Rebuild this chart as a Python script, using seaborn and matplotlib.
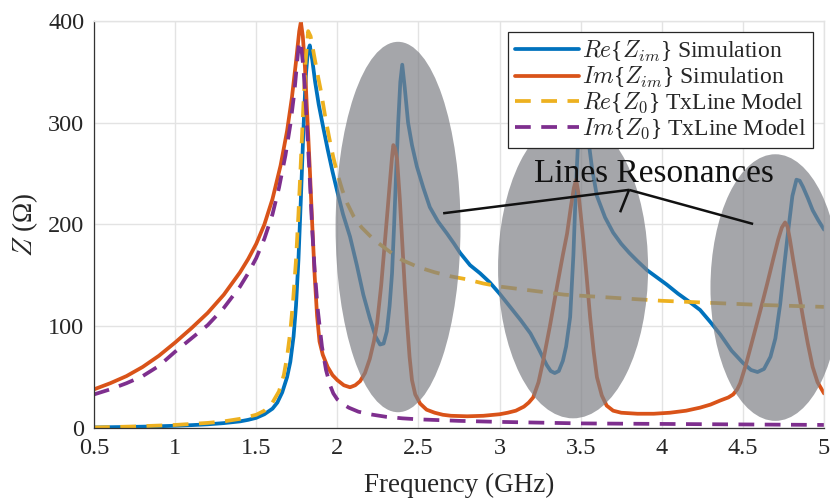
import numpy as np
import pandas as pd
import matplotlib
matplotlib.use("Agg")
import matplotlib.pyplot as plt
import seaborn as sns
from matplotlib.patches import Ellipse

# ---------------- data ----------------
re_sim_f = [0.5, 0.6, 0.7, 0.8, 0.9, 1.0, 1.1, 1.2, 1.3, 1.4, 1.45, 1.5, 1.55, 1.6, 1.63, 1.66,
            1.69, 1.71, 1.73, 1.745, 1.76, 1.775, 1.79, 1.805, 1.818, 1.83, 1.845, 1.863, 1.885,
            1.912, 1.94, 1.97, 2.0, 2.035, 2.078, 2.12, 2.16, 2.2, 2.235, 2.263, 2.285, 2.305,
            2.322, 2.337, 2.35, 2.362, 2.375, 2.388, 2.40, 2.415, 2.436, 2.46, 2.49, 2.53, 2.57,
            2.62, 2.676, 2.72, 2.757, 2.818, 2.88, 2.94, 3.0, 3.065, 3.13, 3.19, 3.24, 3.29,
            3.315, 3.34, 3.365, 3.39, 3.41, 3.435, 3.455, 3.47, 3.485, 3.5, 3.515, 3.53, 3.546,
            3.57, 3.6, 3.65, 3.7, 3.75, 3.8, 3.85, 3.91, 3.97, 4.03, 4.1, 4.17, 4.236, 4.3,
            4.36, 4.43, 4.5, 4.55, 4.59, 4.63, 4.67, 4.7, 4.73, 4.755, 4.78, 4.805, 4.83, 4.85,
            4.87, 4.9, 4.93, 4.965, 5.0]
re_sim_v = [0.5, 0.8, 1, 1.3, 1.7, 2.2, 2.8, 3.6, 4.8, 6.5, 8, 10, 13.5, 19, 25, 35,
            50, 65, 90, 120, 165, 225, 290, 345, 370, 376, 362, 340, 318,
            296, 274, 252, 232, 210, 188, 160, 131, 108, 90, 82, 83, 95,
            120, 152, 200, 250, 300, 340, 357, 335, 300, 278, 257, 236, 217,
            203, 191, 181, 172, 160, 152, 143, 132, 119, 106, 93, 78, 62,
            56, 54, 56, 66, 80, 109, 170, 235, 285, 312, 318, 305, 285,
            255, 228, 207, 192, 181, 172, 164, 155, 148, 141, 132, 124, 116, 104,
            92, 76, 64, 57, 55, 58, 70, 88, 122, 160, 195, 228, 244, 243,
            237, 226, 214, 204, 195]

im_sim_f = [0.5, 0.6, 0.7, 0.8, 0.9, 1.0, 1.1, 1.2, 1.3, 1.4, 1.45, 1.5, 1.55, 1.6, 1.65, 1.69,
            1.72, 1.745, 1.765, 1.775, 1.787, 1.80, 1.815, 1.83, 1.845, 1.86, 1.875, 1.89, 1.91,
            1.94, 1.97, 2.0, 2.04, 2.078, 2.11, 2.14, 2.17, 2.2, 2.225, 2.245, 2.27, 2.294, 2.31,
            2.325, 2.338, 2.345, 2.355, 2.368, 2.385, 2.399, 2.415, 2.43, 2.445, 2.46, 2.48, 2.51,
            2.55, 2.6, 2.65, 2.7, 2.8, 2.9, 3.0, 3.05, 3.1, 3.15, 3.18, 3.207, 3.24, 3.27, 3.31,
            3.354, 3.39, 3.416, 3.44, 3.458, 3.472, 3.485, 3.5, 3.516, 3.537, 3.558, 3.58, 3.60,
            3.63, 3.66, 3.7, 3.75, 3.85, 3.95, 4.05, 4.15, 4.236, 4.3, 4.36, 4.41, 4.44, 4.465,
            4.483, 4.52, 4.565, 4.61, 4.65, 4.69, 4.717, 4.74, 4.76, 4.775, 4.79, 4.81, 4.84,
            4.87, 4.9, 4.93, 4.96, 5.0]
im_sim_v = [38, 44, 51, 60, 71, 84, 98, 113, 131, 153, 166, 181, 200, 225, 258, 292,
            325, 360, 390, 399, 385, 355, 305, 255, 200, 150, 110, 85, 72,
            60, 52, 47, 42, 40, 42, 46, 54, 68, 85, 103, 140, 185, 215,
            244, 268, 278, 275, 264, 225, 185, 140, 103, 70, 47, 33, 24,
            18, 15, 13, 12, 11.5, 12, 13.5, 15, 17, 21, 25, 30, 45, 67, 100,
            139, 170, 191, 218, 236, 244, 232, 210, 185, 148, 109, 75, 50,
            32, 22, 17, 15, 14, 14, 15, 17, 20, 23, 27, 30, 33, 38,
            44, 63, 90, 117, 142, 168, 185, 197, 202, 198, 185, 165, 137,
            109, 83, 60, 45, 34]

re_tx_f = [0.5, 0.75, 1.0, 1.2, 1.3, 1.4, 1.5, 1.55, 1.6, 1.64, 1.67, 1.69, 1.71, 1.727, 1.745,
           1.76, 1.775, 1.79, 1.805, 1.82, 1.835, 1.85, 1.875, 1.9, 1.925, 1.95, 1.975, 2.0,
           2.03, 2.06, 2.1, 2.15, 2.2, 2.25, 2.3, 2.35, 2.4, 2.5, 2.6, 2.7, 2.8, 2.9, 3.0,
           3.1, 3.2, 3.3, 3.4, 3.6, 3.8, 4.0, 4.3, 4.6, 5.0]
re_tx_v = [0.5, 1.5, 3, 5, 6.5, 9, 13, 17, 25, 36, 52, 70, 95, 125, 165,
           210, 262, 315, 362, 390, 385, 372, 350, 330, 306, 285, 266, 250,
           234, 221, 208, 197, 189, 182, 176, 170, 165, 158, 153, 149, 146, 142, 139,
           137, 135, 133, 131, 129, 127, 125, 123, 121, 119]

im_tx_f = [0.5, 0.6, 0.7, 0.8, 0.9, 1.0, 1.1, 1.2, 1.3, 1.4, 1.45, 1.5, 1.55, 1.6, 1.64, 1.68,
           1.71, 1.735, 1.755, 1.765, 1.775, 1.79, 1.8, 1.815, 1.83, 1.845, 1.86, 1.88, 1.905,
           1.93, 1.955, 1.975, 2.0, 2.04, 2.07, 2.13, 2.2, 2.3, 2.4, 2.5, 2.75, 3.0, 3.5, 4.0,
           4.5, 5.0]
im_tx_v = [33, 38, 44, 51, 61, 75, 88, 101, 118, 139, 152, 167, 186, 210, 236, 268,
           298, 330, 365, 380, 378, 355, 332, 290, 245, 195, 155, 115, 80,
           57, 42, 34, 28, 23, 20, 16, 13.5, 11, 9.5, 8.5, 7, 6, 4.5, 4,
           3.5, 3]

series_labels = [r"$Re${$Z_{im}$} Simulation",
                 r"$Im${$Z_{im}$} Simulation",
                 r"$Re${$Z_0$} TxLine Model",
                 r"$Im${$Z_0$} TxLine Model"]
series_colors = ["#0072BD", "#D95319", "#EDB120", "#7E2F8E"]

x_ticks = [0.5, 1, 1.5, 2, 2.5, 3, 3.5, 4, 4.5, 5]
x_ticklabels = ["0.5", "1", "1.5", "2", "2.5", "3", "3.5", "4", "4.5", "5"]
y_ticks = [0, 100, 200, 300, 400]

# resonance highlight ellipses: (center f, center Z, width f, height Z)
ellipses = [(2.374, 197.5, 0.77, 364), (3.453, 157, 0.925, 295), (4.70, 138, 0.80, 262)]
annot_text = "Lines Resonances"
annot_text_pos = (3.949, 242)
annot_hub = (3.798, 234)
annot_ends = [(2.652, 211), (3.743, 212), (4.563, 200.5)]

# ---------------- build table ----------------
frames = []
for lab, f, v in zip(series_labels, [re_sim_f, im_sim_f, re_tx_f, im_tx_f],
                     [re_sim_v, im_sim_v, re_tx_v, im_tx_v]):
    frames.append(pd.DataFrame({"f": f, "Z": v, "series": lab}))
df = pd.concat(frames, ignore_index=True)

# ---------------- plot ----------------
sns.set_theme(style="white")
plt.rcParams["font.family"] = ["Liberation Serif", "DejaVu Serif"]
plt.rcParams["mathtext.fontset"] = "cm"

fig = plt.figure(figsize=(8.3, 4.99), dpi=100)
ax = fig.add_axes([0.1133, 0.1423, 0.8795, 0.8157])

dash_map = {series_labels[0]: "", series_labels[1]: "",
            series_labels[2]: (4.2, 2.8), series_labels[3]: (4.2, 2.8)}
sns.lineplot(data=df, x="f", y="Z", hue="series", style="series",
             hue_order=series_labels, style_order=series_labels,
             palette=series_colors, dashes=dash_map, lw=2.7, ax=ax,
             sort=True, estimator=None, zorder=2)
for ln in ax.lines:
    ln.set_solid_joinstyle("round")

for (cx, cy, w, h) in ellipses:
    ax.add_patch(Ellipse((cx, cy), w, h, facecolor="#7f8086", edgecolor="none",
                         alpha=0.7, zorder=3, clip_on=False))

for end in annot_ends:
    ax.plot([annot_hub[0], end[0]], [annot_hub[1], end[1]], color="#111111",
            lw=1.8, zorder=4, solid_capstyle="butt")
ax.text(annot_text_pos[0], annot_text_pos[1], annot_text, ha="center", va="baseline",
        fontsize=24, color="#111111", zorder=4)

ax.set_xlim(0.5, 5)
ax.set_ylim(0, 400)
ax.set_xticks(x_ticks)
ax.set_xticklabels(x_ticklabels)
ax.set_yticks(y_ticks)
ax.grid(True, color="#e3e3e3", lw=1.0)
ax.set_axisbelow(True)
ax.tick_params(axis="both", direction="in", length=5, width=0.9, colors="#262626",
               labelsize=17.5)
ax.tick_params(axis="x", pad=7)
ax.tick_params(axis="y", pad=7)
for s in ["left", "bottom"]:
    ax.spines[s].set_color("#333333")
    ax.spines[s].set_linewidth(0.9)
for s in ["top", "right"]:
    ax.spines[s].set_color("#e3e3e3")
    ax.spines[s].set_linewidth(1.0)

ax.set_xlabel("Frequency (GHz)", fontsize=19.5, color="#262626", labelpad=10)
ax.set_ylabel(r"$Z$ (Ω)", fontsize=19.5, color="#262626", labelpad=6)

handles, labels = ax.get_legend_handles_labels()
leg = ax.legend(handles, labels, loc="upper right", fontsize=17, frameon=True,
                fancybox=False, edgecolor="#262626", framealpha=1.0,
                labelspacing=0.05, handlelength=2.7, handletextpad=0.15,
                borderpad=0.3, borderaxespad=0.45)
leg.get_frame().set_linewidth(0.9)
leg.set_zorder(6)

fig.savefig("out.png", dpi=100)
